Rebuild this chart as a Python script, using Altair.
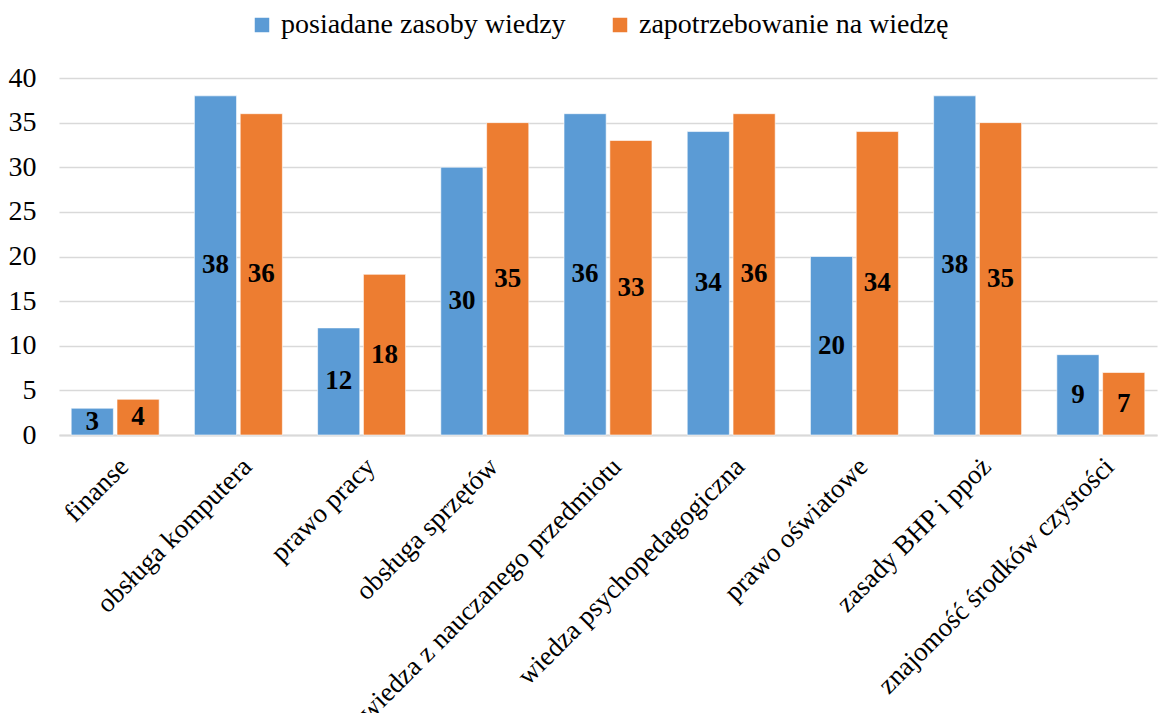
import altair as alt
import pandas as pd

categories = ["finanse", "obsługa komputera", "prawo pracy", "obsługa sprzętów",
              "wiedza z nauczanego przedmiotu", "wiedza psychopedagogiczna",
              "prawo oświatowe", "zasady BHP i ppoż", "znajomość środków czystości"]
series_names = ["posiadane zasoby wiedzy", "zapotrzebowanie na wiedzę"]
posiadane = [3, 38, 12, 30, 36, 34, 20, 38, 9]
zapotrzebowanie = [4, 36, 18, 35, 33, 36, 34, 35, 7]
y_ticks = [0, 5, 10, 15, 20, 25, 30, 35, 40]

rows = []
for c, a, b in zip(categories, posiadane, zapotrzebowanie):
    rows.append({"kat": c, "seria": series_names[0], "v": a})
    rows.append({"kat": c, "seria": series_names[1], "v": b})
df = pd.DataFrame(rows)

FONT = "Liberation Serif"

x = alt.X("kat:N", sort=categories, title=None,
          scale=alt.Scale(paddingInner=0.286, paddingOuter=0.099),
          axis=alt.Axis(labelAngle=-45, labelAlign="right", labelBaseline="top",
                        labelFontSize=27, labelFont=FONT, labelColor="#000000",
                        labelPadding=18, ticks=False, domainColor="#D9D9D9",
                        domainWidth=2, labelLimit=600))
xo = alt.XOffset("seria:N", sort=series_names,
                 scale=alt.Scale(paddingInner=0.08))
color = alt.Color("seria:N", sort=series_names,
                  scale=alt.Scale(domain=series_names, range=["#5B9BD5", "#ED7D31"]),
                  legend=alt.Legend(title=None, orient="none", direction="horizontal",
                                    legendX=189, legendY=-67, symbolType="square",
                                    symbolSize=210, symbolStrokeWidth=0,
                                    labelFont=FONT, labelFontSize=28,
                                    labelColor="#000000", columnPadding=40,
                                    labelOffset=5, labelLimit=600))

bars = alt.Chart(df).mark_bar(stroke="#FFFFFF", strokeWidth=0.6).encode(
    x=x, xOffset=xo, color=color,
    y=alt.Y("v:Q", title=None,
            scale=alt.Scale(domain=[0, 40], nice=False),
            axis=alt.Axis(values=y_ticks, ticks=False,
                          domain=False, labelFont=FONT, labelFontSize=28,
                          labelColor="#000000", labelPadding=23,
                          gridColor="#D9D9D9", gridWidth=1.5)),
)

labels = alt.Chart(df).transform_calculate(mid="datum.v / 2").mark_text(
    font=FONT, fontSize=27, fontWeight="bold", color="#000000", baseline="middle"
).encode(
    x=alt.X("kat:N", sort=categories, title=None),
    xOffset=alt.XOffset("seria:N", sort=series_names),
    y=alt.Y("mid:Q", title=None),
    text=alt.Text("v:Q"),
)

chart = (bars + labels).properties(
    width=1098, height=357,
    autosize=alt.AutoSizeParams(type="none"),
    padding={"left": 59, "top": 78, "right": 1, "bottom": 278},
).configure(font=FONT).configure_axis(labelFont=FONT).configure_legend(
    labelFont=FONT).configure_view(stroke=None)

chart.save("out.html", embed_options={"renderer": "svg", "actions": False})
